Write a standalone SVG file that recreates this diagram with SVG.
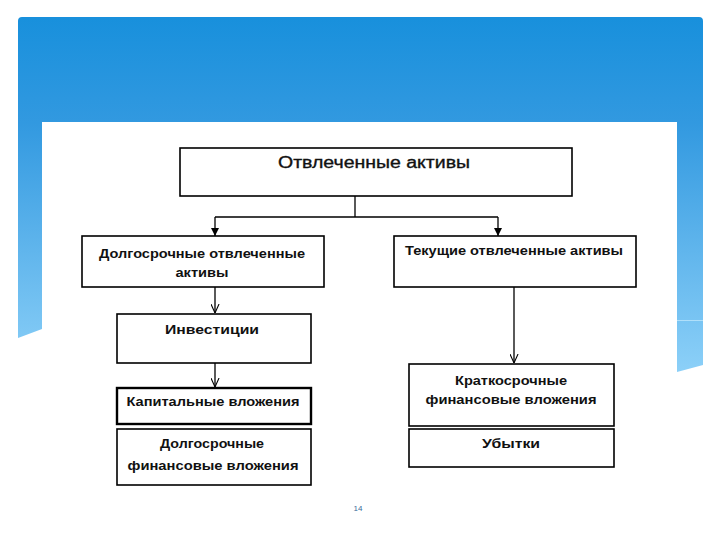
<svg xmlns="http://www.w3.org/2000/svg" width="720" height="540" viewBox="0 0 720 540">
<defs>
<linearGradient id="bg" x1="0" y1="17" x2="0" y2="372" gradientUnits="userSpaceOnUse">
<stop offset="0" stop-color="#1890dc"/>
<stop offset="0.3" stop-color="#3299e0"/>
<stop offset="1" stop-color="#8cd0f8"/>
</linearGradient>
<marker id="fill" viewBox="0 0 10 10" refX="10" refY="5" markerWidth="8" markerHeight="8" markerUnits="userSpaceOnUse" orient="auto">
<path d="M0,0 L10,5 L0,10 Z" fill="#000"/>
</marker>
<marker id="open" viewBox="0 0 10 10" refX="10" refY="5" markerWidth="9" markerHeight="9" markerUnits="userSpaceOnUse" orient="auto">
<path d="M0,0.5 L10,5 L0,9.5" fill="none" stroke="#000" stroke-width="1.2"/>
</marker>
</defs>
<style>
.box{fill:#fff;stroke:#000;stroke-width:1.6}
.thick{stroke-width:2.4}
.t{font-family:"Liberation Sans",Arial,sans-serif;font-weight:bold;font-size:13px;fill:#111}
.title{font-size:16px;font-weight:normal;stroke:#111;stroke-width:0.35;font-family:"Liberation Sans",Arial,sans-serif}
.c{fill:none;stroke:#000;stroke-width:1.3}
</style>
<rect width="720" height="540" fill="#fff"/>
<path d="M22,17 H699 Q703,17 703,21 V365 L677,372 V122 H42 V329 L18,338 V21 Q18,17 22,17 Z" fill="url(#bg)"/>
<rect x="677" y="320" width="26" height="1" fill="#c8ebfc" opacity="0.7"/>
<rect x="42" y="122" width="635" height="418" fill="#fff"/>

<g id="connectors">
<path class="c" d="M355,196 V217 M215,217 H498"/>
<path class="c" d="M215,217 V236" marker-end="url(#fill)"/>
<path class="c" d="M498,217 V236" marker-end="url(#fill)"/>
<path class="c" d="M215,287 V313" marker-end="url(#open)"/>
<path class="c" d="M215,363 V387" marker-end="url(#open)"/>
<path class="c" d="M514,287 V363" stroke-width="2" marker-end="url(#open)"/>
</g>

<g id="n-root">
<rect class="box" x="180" y="148" width="392" height="48"/>
<text class="t title" x="374" y="168" text-anchor="middle" textLength="192" lengthAdjust="spacingAndGlyphs">Отвлеченные активы</text>
</g>
<g id="n-long">
<rect class="box" x="82" y="236" width="242" height="51"/>
<text class="t" x="202" y="258" text-anchor="middle" textLength="206" lengthAdjust="spacingAndGlyphs">Долгосрочные отвлеченные</text>
<text class="t" x="202" y="277" text-anchor="middle" textLength="53" lengthAdjust="spacingAndGlyphs">активы</text>
</g>
<g id="n-current">
<rect class="box" x="394" y="236" width="242" height="51"/>
<text class="t" x="514" y="255" text-anchor="middle" textLength="218" lengthAdjust="spacingAndGlyphs">Текущие  отвлеченные активы</text>
</g>
<g id="n-invest">
<rect class="box" x="117" y="314" width="194" height="49"/>
<text class="t" x="212" y="334" text-anchor="middle" textLength="94" lengthAdjust="spacingAndGlyphs">Инвестиции</text>
</g>
<g id="n-capital">
<rect class="box thick" x="117" y="388" width="194" height="36"/>
<text class="t" x="213" y="406" text-anchor="middle" textLength="173" lengthAdjust="spacingAndGlyphs">Капитальные вложения</text>
</g>
<g id="n-longfin">
<rect class="box" x="117" y="429" width="194" height="56"/>
<text class="t" x="212" y="448" text-anchor="middle" textLength="104" lengthAdjust="spacingAndGlyphs">Долгосрочные</text>
<text class="t" x="213" y="470" text-anchor="middle" textLength="171" lengthAdjust="spacingAndGlyphs">финансовые вложения</text>
</g>
<g id="n-shortfin">
<rect class="box" x="409" y="364" width="205" height="62"/>
<text class="t" x="511" y="385" text-anchor="middle" textLength="112" lengthAdjust="spacingAndGlyphs">Краткосрочные</text>
<text class="t" x="511" y="404" text-anchor="middle" textLength="171" lengthAdjust="spacingAndGlyphs">финансовые вложения</text>
</g>
<g id="n-loss">
<rect class="box" x="409" y="429" width="205" height="38"/>
<text class="t" x="511" y="448" text-anchor="middle" textLength="58" lengthAdjust="spacingAndGlyphs">Убытки</text>
</g>
<text x="358" y="511" text-anchor="middle" font-family="Liberation Sans,Arial,sans-serif" font-size="8" fill="#3a6a9a">14</text>
</svg>
